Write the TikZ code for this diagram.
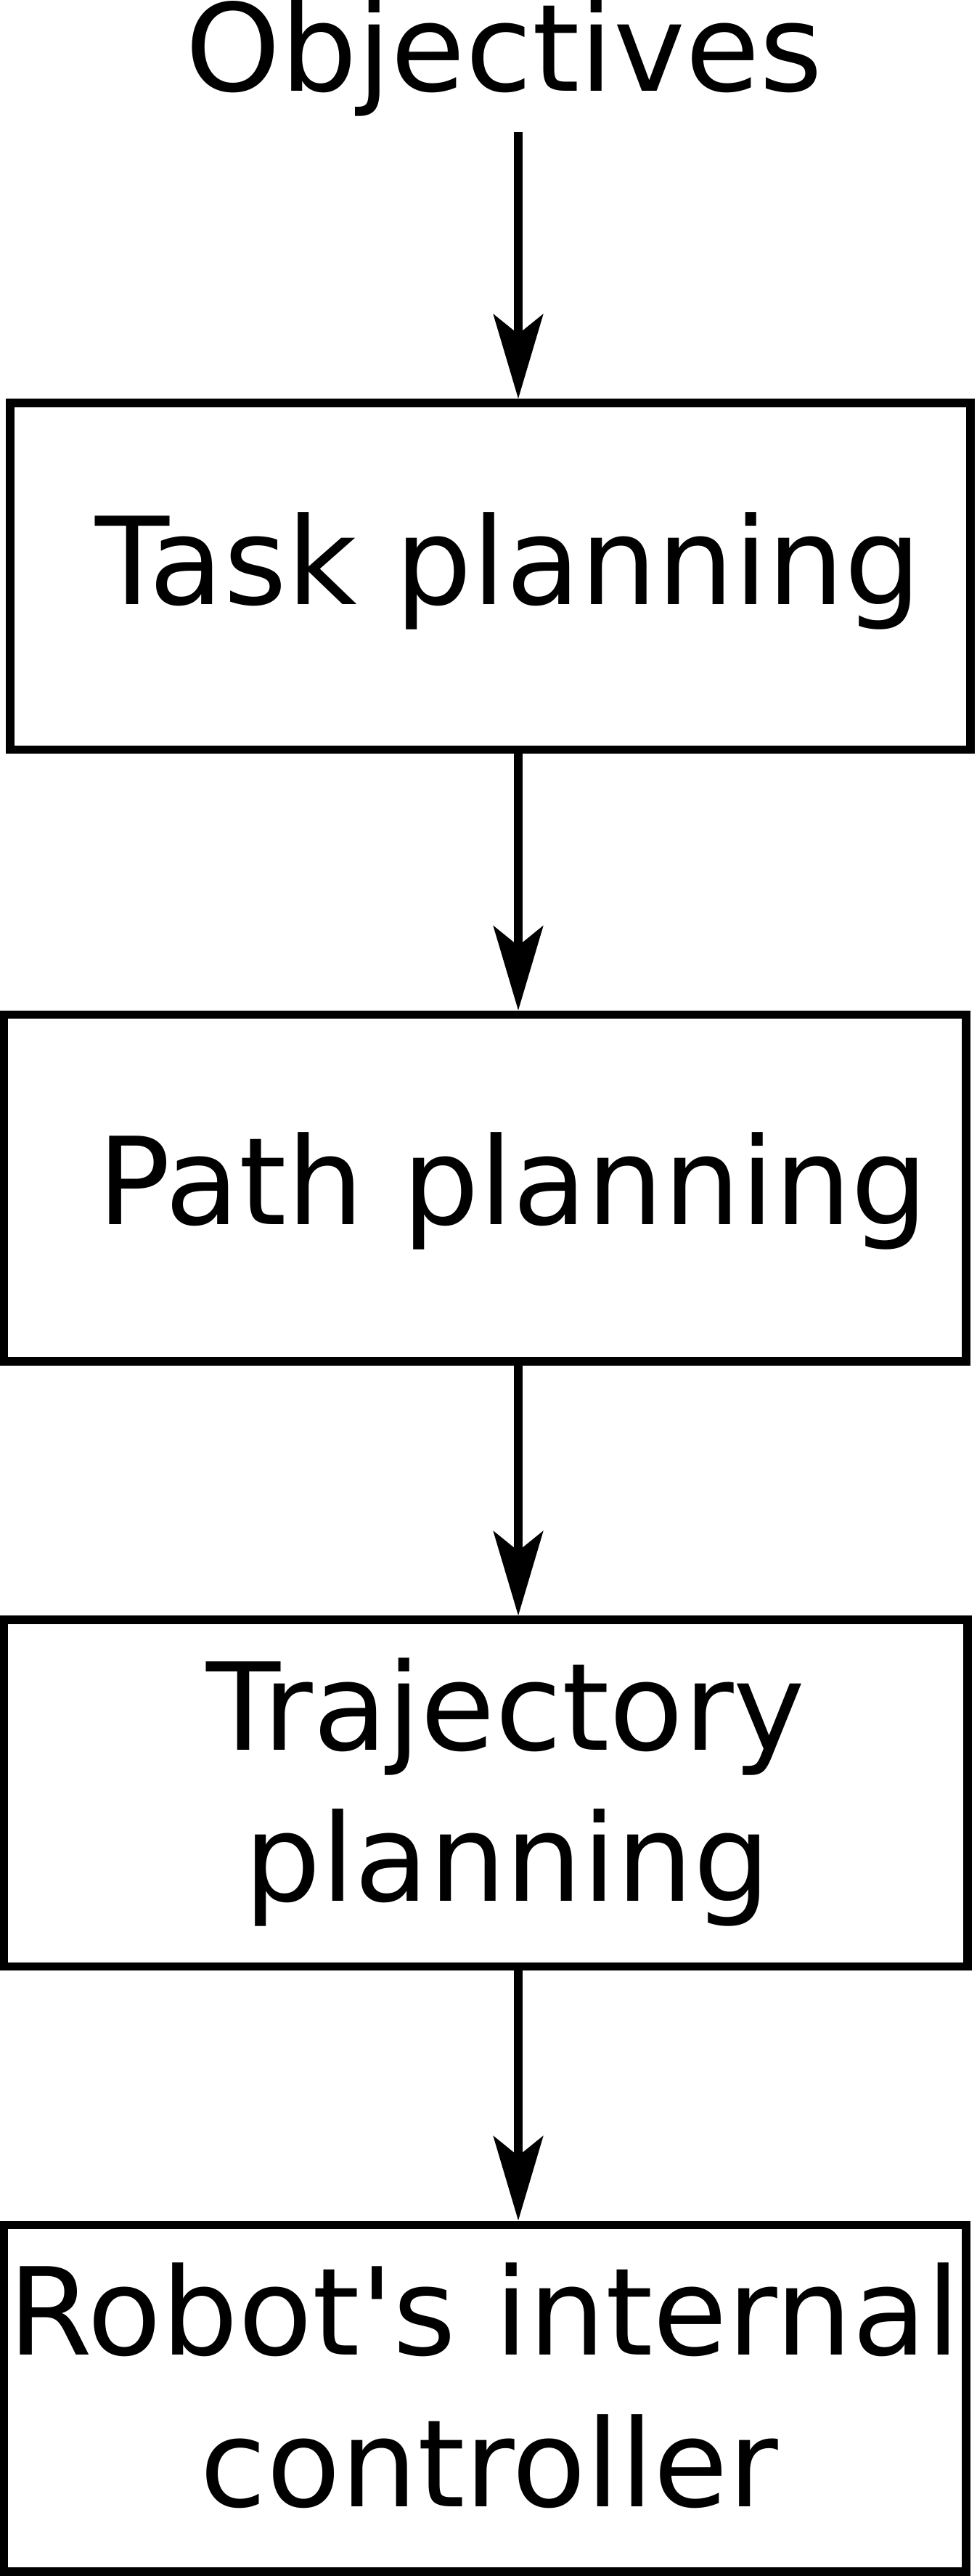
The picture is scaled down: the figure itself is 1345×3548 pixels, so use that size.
\documentclass[tikz,border=0pt]{standalone}
\usepackage{fontspec}
\setmainfont{DejaVu Sans}[Ligatures=TeXOff]
\usetikzlibrary{arrows.meta}
\begin{document}
\begin{tikzpicture}[x=0.5pt,y=-0.5pt,
  box/.style={draw, rectangle, line width=5.75pt, inner sep=0pt, minimum height=238.75pt},
  lbl/.style={anchor=base, inner sep=0pt, font=\fontsize{83.5}{104}\selectfont},
  flow/.style={line width=6.25pt, -{Stealth[length=58pt,width=34pt,inset=13.5pt]}}]
\useasboundingbox (0,0) rectangle (1345,3548);
% boxes
\node[box, minimum width=661.65pt] (b1) at (675.4,793.75) {};
\node[box, minimum width=663pt] (b2) at (668,1636.25) {};
\node[box, minimum width=663.75pt] (b3) at (669.2,2469.8) {};
\node[box, minimum width=662.75pt] (b4) at (668.25,3303) {};
% texts
\node[lbl] (obj) at (694.5,126) {Objectives};
\node[lbl] (t1) at (700.5,832.3) {Task planning};
\node[lbl] (t2) at (706.5,1686) {Path planning};
\node[lbl] (t3a) at (697,2410.7) {Trajectory};
\node[lbl] (t3b) at (698.5,2618.6) {planning};
\node[lbl] (t4a) at (667,3243.6) {Robot's internal};
\node[lbl] (t4b) at (673.5,3452) {controller};
% connectors
\coordinate (s0) at (714,182);
\coordinate (ax) at (714,0);
\draw[flow] (s0) -- (ax |- b1.north);
\draw[flow] (ax |- b1.south) -- (ax |- b2.north);
\draw[flow] (ax |- b2.south) -- (ax |- b3.north);
\draw[flow] (ax |- b3.south) -- (ax |- b4.north);
\end{tikzpicture}
\end{document}
